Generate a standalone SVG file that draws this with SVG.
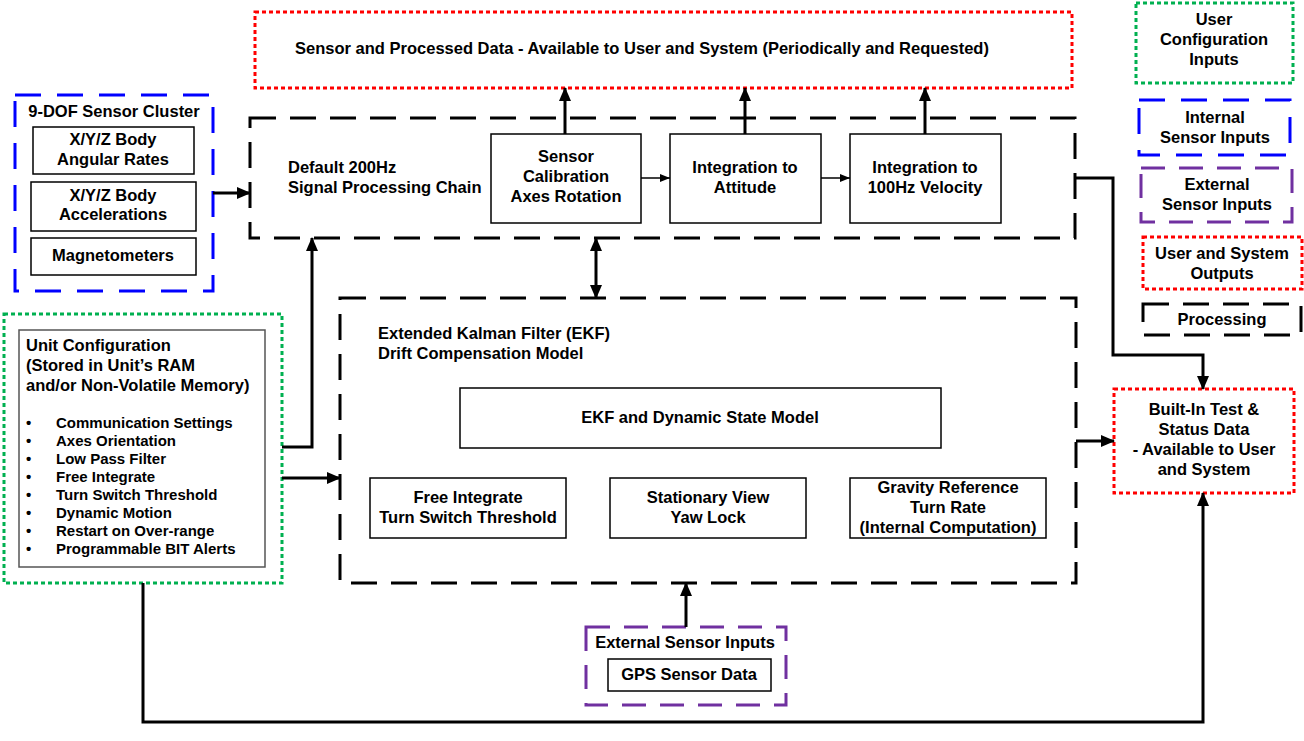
<svg xmlns="http://www.w3.org/2000/svg" width="1304" height="741" viewBox="0 0 1304 741">
<defs>
<style>
text{font-family:"Liberation Sans",Arial,sans-serif;font-weight:bold;font-size:16.5px;fill:#000}
.c{text-anchor:middle}
.s{font-size:15px}
.proc{fill:none;stroke:#000;stroke-width:3;stroke-dasharray:26 14}
.blue{fill:none;stroke:#0000FF;stroke-width:3;stroke-dasharray:26 16}
.purple{fill:none;stroke:#7030A0;stroke-width:3;stroke-dasharray:24 14}
.red{fill:none;stroke:#FF0000;stroke-width:3;stroke-dasharray:4 3}
.green{fill:none;stroke:#00B050;stroke-width:3;stroke-dasharray:4 3}
.box{fill:#fff;stroke:#000;stroke-width:1.5}
.gbox{fill:#fff;stroke:#555;stroke-width:1.5}
.thick{fill:none;stroke:#000;stroke-width:3}
.thin{fill:none;stroke:#000;stroke-width:1.5}
</style>
<marker id="ah" markerUnits="userSpaceOnUse" markerWidth="14" markerHeight="14" viewBox="0 0 14 14" refX="13" refY="7" orient="auto-start-reverse">
<path d="M0,1 L14,7 L0,13 Z" fill="#000"/>
</marker>
<marker id="as" markerUnits="userSpaceOnUse" markerWidth="10" markerHeight="10" viewBox="0 0 10 10" refX="10" refY="5" orient="auto">
<path d="M0,1 L10,5 L0,9 Z" fill="#000"/>
</marker>
</defs>
<rect width="1304" height="741" fill="#fff"/>

<g id="outputs-top">
<rect class="red" x="255" y="12" width="817" height="76"/>
<text class="c" x="642" y="54">Sensor and Processed Data - Available to User and System (Periodically and Requested)</text>
</g>

<g id="sensor-cluster">
<rect class="blue" x="15" y="95" width="198" height="196"/>
<text class="c" x="114" y="117">9-DOF Sensor Cluster</text>
<rect class="box" x="33" y="127" width="161" height="47"/>
<text class="c" x="113" y="145">X/Y/Z Body</text>
<text class="c" x="113" y="165">Angular Rates</text>
<rect class="box" x="31" y="182" width="165" height="49"/>
<text class="c" x="113" y="201">X/Y/Z Body</text>
<text class="c" x="113" y="220">Accelerations</text>
<rect class="box" x="31" y="238" width="165" height="37"/>
<text class="c" x="113" y="261">Magnetometers</text>
</g>

<g id="signal-chain">
<rect class="proc" x="250" y="118" width="825" height="120"/>
<text x="288" y="173">Default 200Hz</text>
<text x="288" y="193">Signal Processing Chain</text>
</g>

<g id="sensor-calibration">
<rect class="box" x="491" y="134" width="150" height="89"/>
<text class="c" x="566" y="162">Sensor</text>
<text class="c" x="566" y="182">Calibration</text>
<text class="c" x="566" y="202">Axes Rotation</text>
</g>

<g id="integration-attitude">
<rect class="box" x="670" y="134" width="151" height="89"/>
<text class="c" x="745" y="173">Integration to</text>
<text class="c" x="745" y="193">Attitude</text>
</g>

<g id="integration-velocity">
<rect class="box" x="850" y="134" width="151" height="89"/>
<text class="c" x="925" y="173">Integration to</text>
<text class="c" x="925" y="193">100Hz Velocity</text>
</g>

<g id="unit-configuration">
<rect class="green" x="4" y="314" width="278" height="269"/>
<rect class="gbox" x="19" y="330" width="246" height="237"/>
<text x="26" y="351">Unit Configuration</text>
<text x="26" y="371">(Stored in Unit’s RAM</text>
<text x="26" y="391">and/or Non-Volatile Memory)</text>
<text class="s" x="26" y="428">•</text><text class="s" x="56" y="428">Communication Settings</text>
<text class="s" x="26" y="446">•</text><text class="s" x="56" y="446">Axes Orientation</text>
<text class="s" x="26" y="464">•</text><text class="s" x="56" y="464">Low Pass Filter</text>
<text class="s" x="26" y="482">•</text><text class="s" x="56" y="482">Free Integrate</text>
<text class="s" x="26" y="500">•</text><text class="s" x="56" y="500">Turn Switch Threshold</text>
<text class="s" x="26" y="518">•</text><text class="s" x="56" y="518">Dynamic Motion</text>
<text class="s" x="26" y="536">•</text><text class="s" x="56" y="536">Restart on Over-range</text>
<text class="s" x="26" y="554">•</text><text class="s" x="56" y="554">Programmable BIT Alerts</text>
</g>

<g id="ekf">
<rect class="proc" x="340" y="298" width="736" height="285"/>
<text x="378" y="339">Extended Kalman Filter (EKF)</text>
<text x="378" y="359">Drift Compensation Model</text>
</g>

<g id="ekf-state-model">
<rect class="box" x="460" y="388" width="481" height="60"/>
<text class="c" x="700" y="423">EKF and Dynamic State Model</text>
</g>

<g id="free-integrate">
<rect class="box" x="370" y="478" width="196" height="60"/>
<text class="c" x="468" y="503">Free Integrate</text>
<text class="c" x="468" y="523">Turn Switch Threshold</text>
</g>

<g id="stationary-view">
<rect class="box" x="610" y="478" width="196" height="60"/>
<text class="c" x="708" y="503">Stationary View</text>
<text class="c" x="708" y="523">Yaw Lock</text>
</g>

<g id="gravity-reference">
<rect class="box" x="850" y="478" width="196" height="60"/>
<text class="c" x="948" y="493">Gravity Reference</text>
<text class="c" x="948" y="513">Turn Rate</text>
<text class="c" x="948" y="533">(Internal Computation)</text>
</g>

<g id="bit-status">
<rect class="red" x="1114" y="389" width="180" height="104"/>
<text class="c" x="1204" y="415">Built-In Test &amp;</text>
<text class="c" x="1204" y="435">Status Data</text>
<text class="c" x="1204" y="455">- Available to User</text>
<text class="c" x="1204" y="475">and System</text>
</g>

<g id="gps-inputs">
<rect class="purple" x="586" y="627" width="200" height="78"/>
<text class="c" x="685" y="648">External Sensor Inputs</text>
<rect class="box" x="608" y="659" width="163" height="32"/>
<text class="c" x="689" y="680">GPS Sensor Data</text>
</g>

<g id="legend">
<g id="legend-user-config">
<rect class="green" x="1136" y="3" width="157" height="80"/>
<text class="c" x="1214" y="25">User</text>
<text class="c" x="1214" y="45">Configuration</text>
<text class="c" x="1214" y="65">Inputs</text>
</g>
<g id="legend-internal">
<rect class="blue" x="1139" y="100" width="151" height="55"/>
<text class="c" x="1215" y="123">Internal</text>
<text class="c" x="1215" y="143">Sensor Inputs</text>
</g>
<g id="legend-external">
<rect class="purple" x="1141" y="168" width="151" height="54"/>
<text class="c" x="1217" y="190">External</text>
<text class="c" x="1217" y="210">Sensor Inputs</text>
</g>
<g id="legend-outputs">
<rect class="red" x="1143" y="237" width="159" height="52"/>
<text class="c" x="1222" y="259">User and System</text>
<text class="c" x="1222" y="279">Outputs</text>
</g>
<g id="legend-processing">
<rect class="proc" x="1143" y="304" width="158" height="31"/>
<text class="c" x="1222" y="325">Processing</text>
</g>
</g>

<g id="connectors">
<path class="thick" d="M213,193 H250" marker-end="url(#ah)"/>
<path class="thick" d="M565,134 V88" marker-end="url(#ah)"/>
<path class="thick" d="M745,134 V88" marker-end="url(#ah)"/>
<path class="thick" d="M925,134 V88" marker-end="url(#ah)"/>
<path class="thin" d="M641,178 H670" marker-end="url(#as)"/>
<path class="thin" d="M821,178 H850" marker-end="url(#as)"/>
<path class="thick" d="M596,238 V298" marker-start="url(#ah)" marker-end="url(#ah)"/>
<path class="thick" d="M282,447 H312 V238" marker-end="url(#ah)"/>
<path class="thick" d="M282,478 H340" marker-end="url(#ah)"/>
<path class="thick" d="M1075,178 H1113 V355 H1203 V389" marker-end="url(#ah)"/>
<path class="thick" d="M1076,441 H1114" marker-end="url(#ah)"/>
<path class="thick" d="M143,583 V722 H1203 V493" marker-end="url(#ah)"/>
<path class="thick" d="M686,627 V583" marker-end="url(#ah)"/>
</g>
</svg>
